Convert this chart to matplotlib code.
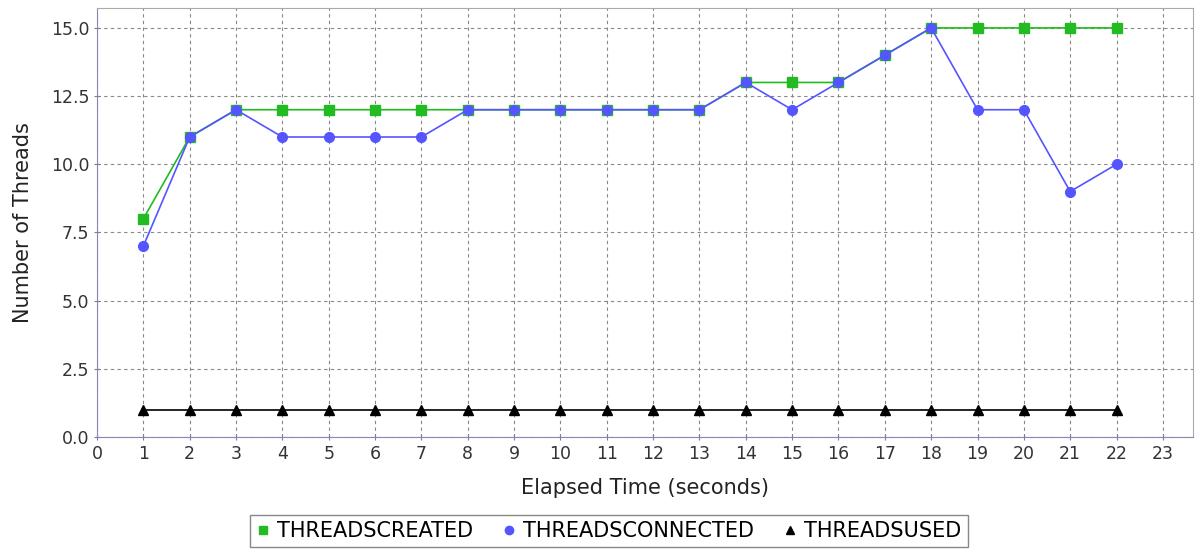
import matplotlib.pyplot as plt
from matplotlib.lines import Line2D

elapsed = list(range(1, 23))
threads_created = [8, 11, 12, 12, 12, 12, 12, 12, 12, 12, 12, 12, 12, 13, 13, 13, 14, 15, 15, 15, 15, 15]
threads_connected = [7, 11, 12, 11, 11, 11, 11, 12, 12, 12, 12, 12, 12, 13, 12, 13, 14, 15, 12, 12, 9, 10]
threads_used = [1] * 22

series = [
    ('THREADSCREATED', threads_created, '#22bb22', 's'),
    ('THREADSCONNECTED', threads_connected, '#5555ff', 'o'),
    ('THREADSUSED', threads_used, 'black', '^'),
]

fig = plt.figure(figsize=(11.95, 5.54), dpi=100)
ax = fig.add_axes([97 / 1195, 117 / 554, 1096 / 1195, 429 / 554])

handles = []
for name, vals, col, mk in series:
    ax.plot(elapsed, vals, color=col, marker=mk, markersize=7, linewidth=1.2)
    handles.append(Line2D([], [], color=col, marker=mk, linestyle='none',
                          markersize=6, label=name))

ax.set_xlim(0, 23.65)
ax.set_ylim(0, 15.73)
ax.set_xticks(range(0, 24))
ax.set_yticks([0, 2.5, 5, 7.5, 10, 12.5, 15])
ax.set_yticklabels(['0.0', '2.5', '5.0', '7.5', '10.0', '12.5', '15.0'])
ax.tick_params(labelsize=12.5, labelcolor='#333333', color='#7777aa',
               length=4, direction='inout')
ax.grid(True, color='#888888', linestyle=(0, (3, 3)), linewidth=0.8)
for side in ['top', 'right']:
    ax.spines[side].set_color('#aaaaaa')
for side in ['left', 'bottom']:
    ax.spines[side].set_color('#8888aa')

ax.set_xlabel('Elapsed Time (seconds)', fontsize=15, color='#222222', labelpad=11)
ax.set_ylabel('Number of Threads', fontsize=15, color='#222222', labelpad=13)

fig.legend(handles=handles, loc='center', bbox_to_anchor=(609 / 1195, 1 - 531 / 554),
           ncol=3, fontsize=15, fancybox=False, edgecolor='#888888', framealpha=1,
           handlelength=0.6, handletextpad=0.4, columnspacing=1.4, borderpad=0.3)

fig.savefig('out.png', dpi=100)
